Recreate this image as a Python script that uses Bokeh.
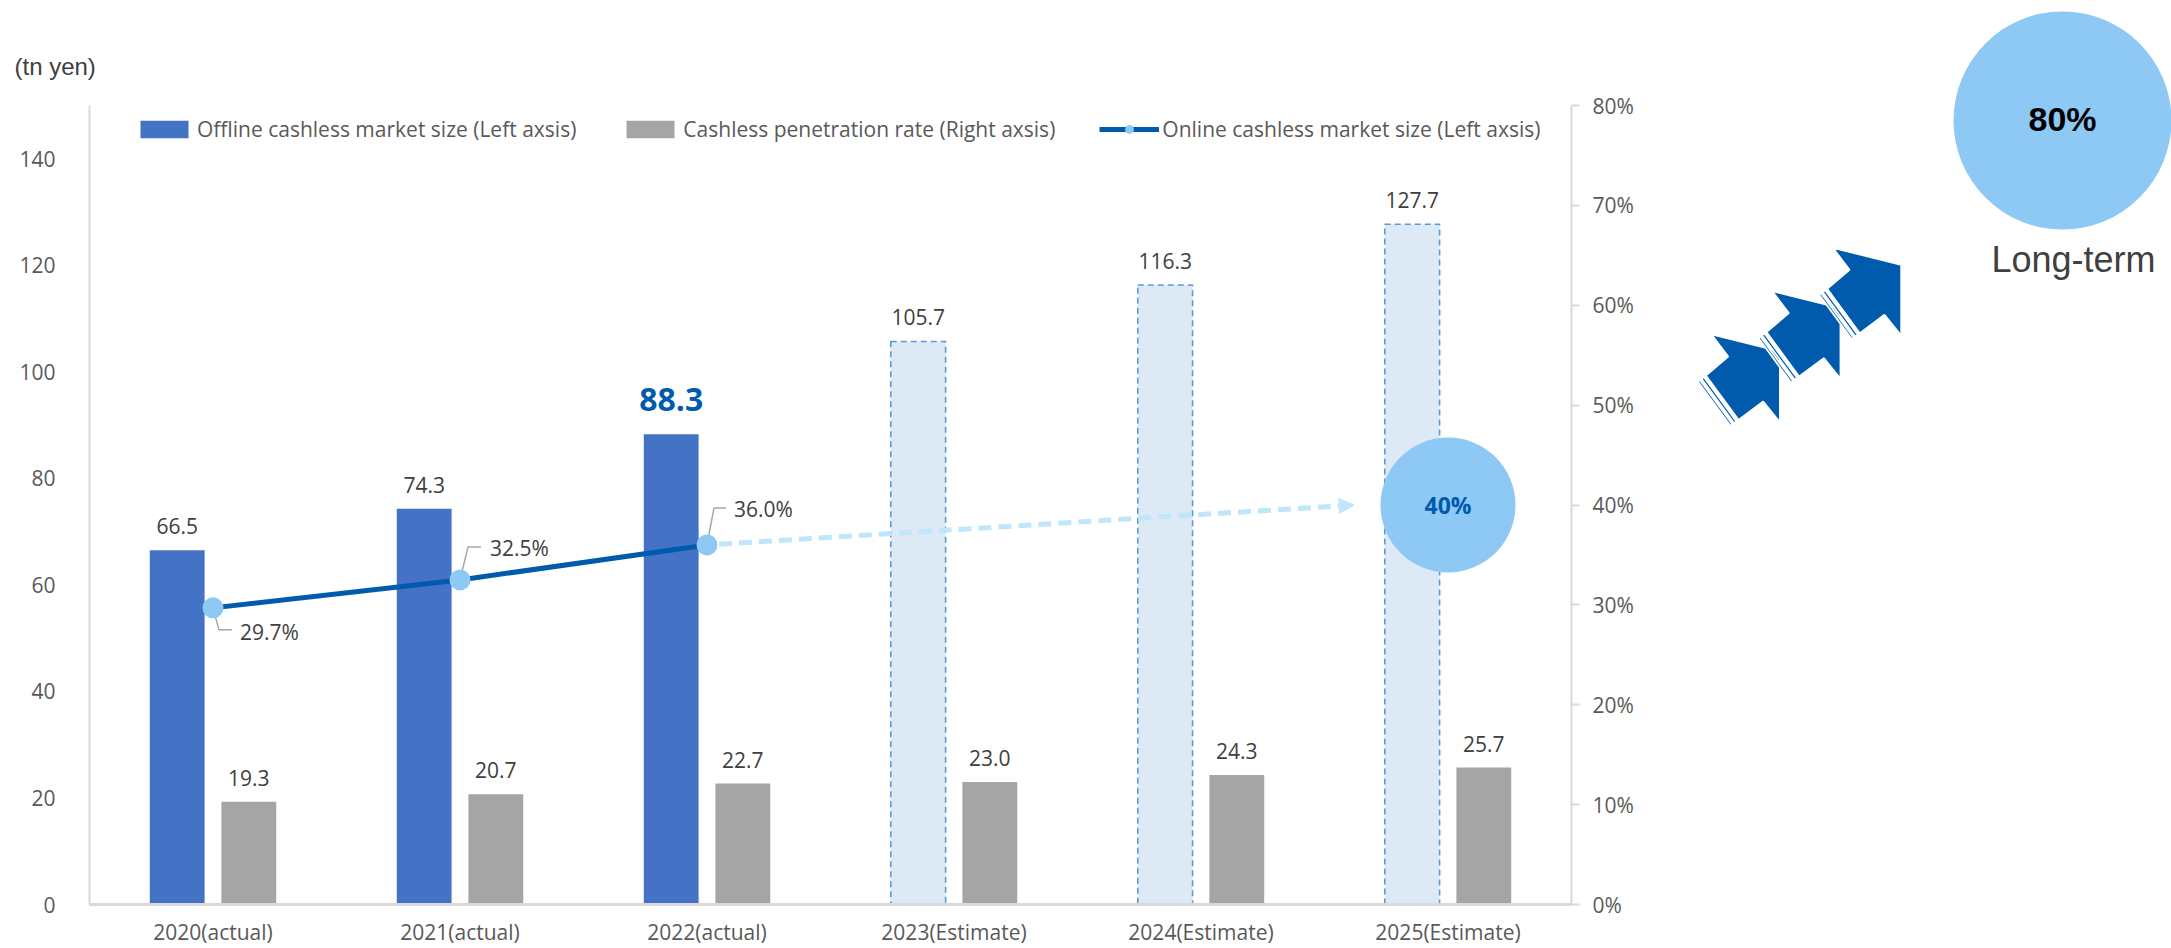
import numpy as np
from bokeh.plotting import figure
from bokeh.models import (Range1d, LinearAxis, FixedTicker, PrintfTickFormatter,
                          ColumnDataSource, Legend, LegendItem, Arrow, NormalHead)
from bokeh.layouts import row
from bokeh.core.properties import value
from bokeh.embed import file_html
from bokeh.resources import INLINE

# ---------------- data ----------------
categories = ["2020(actual)", "2021(actual)", "2022(actual)",
              "2023(Estimate)", "2024(Estimate)", "2025(Estimate)"]
offline_size = [66.5, 74.3, 88.3, 105.7, 116.3, 127.7]      # tn yen (bars, left axis)
penetration = [19.3, 20.7, 22.7, 23.0, 24.3, 25.7]         # grey bars
online_rate = [29.7, 32.5, 36.0]                           # % (line, right axis)
n_actual = 3
target_2025 = 40       # %
target_longterm = 80   # %
left_ticks = [0, 20, 40, 60, 80, 100, 120, 140]
right_ticks = [0, 10, 20, 30, 40, 50, 60, 70, 80]

legend_labels = ["Offline cashless market size (Left axsis)",
                 "Cashless penetration rate (Right axsis)",
                 "Online cashless market size (Left axsis)"]
unit_label = "(tn yen)"

# ---------------- style ----------------
FONT = "Open Sans"
FS = "21px"
C_BLUE = "#4472C4"
C_GREY = "#A5A5A5"
C_EST_FILL = "#DDEAF6"
C_EST_LINE = "#5B9BD5"
C_LINE = "#005BAC"
C_MARK = "#8EC8F5"
C_DASH = "#C0E6F9"
C_AXIS = "#D9D9D9"
C_TICKLBL = "#595959"
C_LBL = "#404040"
C_LEADER = "#A6A6A6"

W_TOTAL, H = 2171, 948
W_MAIN = 1668
BL, BR, BT, BB = 89, 97, 105, 44
FW = W_MAIN - BL - BR
FH = H - BT - BB

N = len(categories)
xc = np.arange(N) + 0.5
BAR_OFF = 0.145
BAR_W = 0.222
dx_pp = N / FW          # x units per pixel
dpct_pp = 80.0 / FH     # pct units per pixel

p = figure(width=W_MAIN, height=H, x_range=Range1d(0, N), y_range=Range1d(0, 150),
           output_backend="svg", toolbar_location=None, frame_align=False,
           min_border_left=BL, min_border_right=BR, min_border_top=BT, min_border_bottom=BB)
p.extra_y_ranges = {"pct": Range1d(0, 80)}
p.grid.visible = False
p.outline_line_color = None
p.background_fill_color = "white"

# unit label as a left-aligned title
p.title.text = unit_label
p.title.align = "left"
p.title.offset = -75
p.title.standoff = 51
p.title.text_font = "Liberation Sans"
p.title.text_font_style = "normal"
p.title.text_font_size = "24px"
p.title.text_color = C_LBL

# left axis
ya = p.yaxis[0]
ya.ticker = FixedTicker(ticks=left_ticks)
ya.major_tick_line_color = None
ya.minor_tick_line_color = None
ya.axis_line_color = C_AXIS
ya.axis_line_width = 2
ya.major_label_text_font = FONT
ya.major_label_text_font_size = FS
ya.major_label_text_color = C_TICKLBL
ya.major_label_standoff = 28

# bottom axis
xa = p.xaxis[0]
xa.ticker = FixedTicker(ticks=list(xc))
xa.major_label_overrides = {float(x): c for x, c in zip(xc, categories)}
xa.major_tick_line_color = None
xa.minor_tick_line_color = None
xa.axis_line_color = C_AXIS
xa.axis_line_width = 3
xa.major_label_text_font = FONT
xa.major_label_text_font_size = FS
xa.major_label_text_color = C_TICKLBL
xa.major_label_standoff = 7

# right axis
ra = LinearAxis(y_range_name="pct", ticker=FixedTicker(ticks=right_ticks),
                formatter=PrintfTickFormatter(format="%d%%"))
ra.major_tick_in = 0
ra.major_tick_out = 8
ra.major_tick_line_color = C_AXIS
ra.major_tick_line_width = 2
ra.minor_tick_line_color = None
ra.axis_line_color = C_AXIS
ra.axis_line_width = 2
ra.major_label_text_font = FONT
ra.major_label_text_font_size = FS
ra.major_label_text_color = C_TICKLBL
ra.major_label_standoff = 13
p.add_layout(ra, "right")

# ---------------- bars ----------------
src_act = ColumnDataSource(dict(x=xc[:n_actual] - BAR_OFF, top=offline_size[:n_actual]))
src_est = ColumnDataSource(dict(x=xc[n_actual:] - BAR_OFF, top=offline_size[n_actual:]))
src_pen = ColumnDataSource(dict(x=xc + BAR_OFF, top=penetration))

r_blue = p.vbar(x="x", top="top", width=BAR_W, source=src_act, fill_color=C_BLUE, line_color=None)
p.vbar(x="x", top="top", width=BAR_W, source=src_est, fill_color=C_EST_FILL,
       line_color=C_EST_LINE, line_width=1.6, line_dash="6 4")
r_grey = p.vbar(x="x", top="top", width=BAR_W, source=src_pen, fill_color=C_GREY, line_color=None)

# bar value labels
hi = n_actual - 1
lbl_off = ColumnDataSource(dict(x=[x - BAR_OFF for i, x in enumerate(xc) if i != hi],
                                y=[v for i, v in enumerate(offline_size) if i != hi],
                                t=[f"{v:.1f}" for i, v in enumerate(offline_size) if i != hi]))
p.text(x="x", y="y", text="t", source=lbl_off, text_font=value(FONT), text_font_size=FS,
       text_color=C_LBL, text_align="center", text_baseline="middle", y_offset=-24)
p.text(x=[xc[hi] - BAR_OFF], y=[offline_size[hi]],
       text=[f"{offline_size[hi]:.1f}"], text_font=value(FONT), text_font_size="32px",
       text_font_style="bold", text_color=C_LINE, text_align="center", text_baseline="middle",
       y_offset=-35)
lbl_pen = ColumnDataSource(dict(x=xc + BAR_OFF, y=penetration, t=[f"{v:.1f}" for v in penetration]))
p.text(x="x", y="y", text="t", source=lbl_pen, text_font=value(FONT), text_font_size=FS,
       text_color=C_LBL, text_align="center", text_baseline="middle", y_offset=-24)

# ---------------- 2025 target circle ----------------
p.scatter(x=[xc[-1]], y=[target_2025], y_range_name="pct", size=135,
          fill_color=C_MARK, line_color=None)
p.text(x=[xc[-1]], y=[target_2025], y_range_name="pct", text=[f"{target_2025}%"],
       text_font=value(FONT), text_font_size="23px", text_font_style="bold",
       text_color=C_LINE, text_align="center", text_baseline="middle")

# ---------------- line (right axis) ----------------
lx = list(xc[:n_actual])
leader_px = [[(0, 0), (6, -22), (19, -22)],
             [(0, 0), (8, 33), (21, 33)],
             [(0, 0), (7, 37), (19, 37)]]
label_px = [(27, 24), (30, -32), (27, -36)]
lxs, lys = [], []
for (x0, y0), pts in zip(zip(lx, online_rate), leader_px):
    lxs.append([x0 + ox * dx_pp for ox, oy in pts])
    lys.append([y0 + oy * dpct_pp for ox, oy in pts])
p.multi_line(xs=lxs, ys=lys, y_range_name="pct", line_color=C_LEADER, line_width=1.5)

r_line = p.line(x=lx, y=online_rate, y_range_name="pct", line_color=C_LINE, line_width=5)
r_pts = p.scatter(x=lx, y=online_rate, y_range_name="pct", size=21,
                  fill_color=C_MARK, line_color=None)
for (x0, y0), (ox, oy) in zip(zip(lx, online_rate), label_px):
    p.text(x=[x0], y=[y0], y_range_name="pct", text=[f"{y0:.1f}%"], text_font=value(FONT),
           text_font_size=FS, text_color=C_LBL, text_align="left", text_baseline="middle",
           x_offset=ox, y_offset=oy)

# dashed projection arrow from last actual point toward 2025 target
x_end = xc[-1] - 0.38
x0, y0 = lx[-1], online_rate[-1]
x_start = x0 + 12 * dx_pp
y_start = y0 + (target_2025 - y0) * (x_start - x0) / (x_end - x0)
p.add_layout(Arrow(end=NormalHead(size=15, fill_color=C_DASH, line_color=C_DASH),
                   x_start=x_start, y_start=y_start, x_end=x_end, y_end=target_2025,
                   y_range_name="pct", line_color=C_DASH, line_width=5, line_dash="13 7"))

# ---------------- legend ----------------
legend = Legend(items=[LegendItem(label=legend_labels[0], renderers=[r_blue]),
                       LegendItem(label=legend_labels[1], renderers=[r_grey]),
                       LegendItem(label=legend_labels[2], renderers=[r_line, r_pts])],
                orientation="horizontal", location=(45, 761), padding=0, margin=0,
                spacing=44, glyph_width=60, glyph_height=22, label_standoff=3,
                label_text_font=FONT, label_text_font_size=FS, label_text_color=C_TICKLBL,
                background_fill_alpha=0, border_line_color=None)
p.add_layout(legend)

# ---------------- decoration panel (page-pixel coordinates) ----------------
W_DECO = W_TOTAL - W_MAIN
d = figure(width=W_DECO, height=H, x_range=Range1d(W_MAIN, W_TOTAL), y_range=Range1d(H, 0),
           output_backend="svg", toolbar_location=None, x_axis_location=None,
           y_axis_location=None, min_border=0, frame_align=False)
d.grid.visible = False
d.outline_line_color = None

body = np.array([(1832.3, 247.3), (1900.7, 264.3), (1900.7, 335.0), (1884.0, 314.3),
                 (1859.3, 332.7), (1826.7, 288.3), (1849.0, 269.3)])
T1 = np.array([1826.7, 288.3]); T2 = np.array([1859.3, 332.7])
e = (T2 - T1) / np.linalg.norm(T2 - T1)
nrm = np.array([-e[1], e[0]])
if nrm[0] > 0:
    nrm = -nrm
stripes = []
for a, b in [(2.5, 5.5), (7.5, 10.0)]:
    stripes.append(np.array([T1 + a * nrm, T2 + a * nrm, T2 + b * nrm, T1 + b * nrm]))
shifts = [(-121.3, 86.7), (-60.7, 43.3), (0.0, 0.0)]
for sx, sy in shifts:
    sh = np.array([sx, sy])
    polys = [body + sh] + [s + sh for s in stripes]
    d.patches(xs=[list(q[:, 0]) for q in polys], ys=[list(q[:, 1]) for q in polys],
              fill_color=C_LINE, line_color="white", line_width=1.8)

d.scatter(x=[2062], y=[120], size=218, fill_color=C_MARK, line_color=None)
d.text(x=[2062], y=[118], text=[f"{target_longterm}%"], text_font=value("Liberation Sans"),
       text_font_size="34px", text_font_style="bold", text_color="black",
       text_align="center", text_baseline="middle")
d.text(x=[2073], y=[259], text=["Long-term"], text_font=value("Liberation Sans"),
       text_font_size="36px", text_color=C_LBL, text_align="center", text_baseline="middle")

layout = row(p, d)
open("out.html", "w").write(file_html(layout, INLINE))
